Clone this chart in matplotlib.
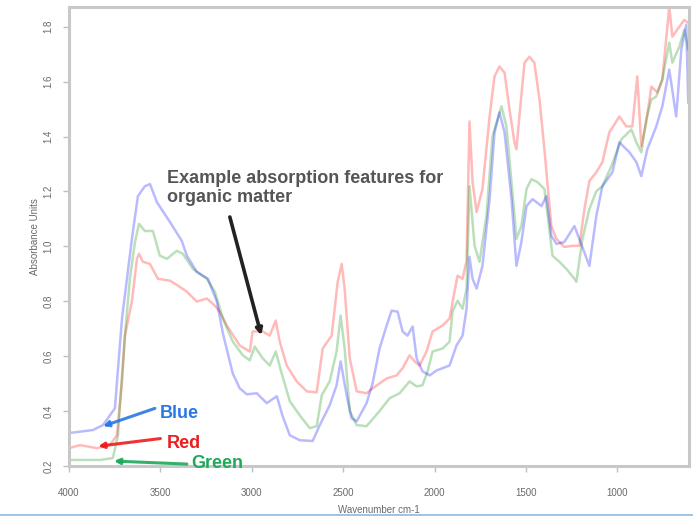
import matplotlib
matplotlib.use("Agg")
import matplotlib.pyplot as plt
from matplotlib.lines import Line2D

plt.rcParams['font.family'] = ['Liberation Sans', 'DejaVu Sans']

# ---------------- data (wavenumber cm-1, absorbance) ----------------
blue_wn = [4000, 3869, 3814, 3749, 3710, 3683, 3656, 3623, 3585, 3557, 3519, 3448, 3383, 3355,
           3301, 3240, 3191, 3158, 3104, 3066, 3027, 2973, 2918, 2863, 2831, 2792, 2738, 2667,
           2628, 2574, 2536, 2514, 2481, 2454, 2426, 2372, 2339, 2301, 2262, 2235, 2202, 2175,
           2148, 2120, 2098, 2066, 2027, 1989, 1918, 1880, 1847, 1825, 1809, 1792, 1770, 1738,
           1699, 1672, 1645, 1617, 1579, 1552, 1525, 1497, 1464, 1415, 1388, 1361, 1333, 1290,
           1235, 1208, 1153, 1115, 1082, 1027, 989, 934, 896, 869, 836, 787, 754, 716, 678,
           650, 623, 612]
blue_abs = [0.320, 0.331, 0.349, 0.410, 0.737, 0.882, 1.027, 1.183, 1.219, 1.227, 1.161, 1.089,
            1.020, 0.966, 0.907, 0.882, 0.799, 0.683, 0.537, 0.483, 0.461, 0.465, 0.429, 0.454,
            0.381, 0.312, 0.294, 0.291, 0.349, 0.421, 0.494, 0.581, 0.458, 0.374, 0.363, 0.429,
            0.501, 0.628, 0.712, 0.766, 0.762, 0.690, 0.675, 0.708, 0.592, 0.545, 0.530, 0.548,
            0.566, 0.639, 0.675, 0.773, 0.962, 0.882, 0.846, 0.929, 1.172, 1.415, 1.488, 1.415,
            1.172, 0.929, 1.016, 1.147, 1.172, 1.147, 1.183, 1.038, 1.009, 1.016, 1.074, 1.027,
            0.929, 1.111, 1.219, 1.270, 1.379, 1.343, 1.307, 1.256, 1.354, 1.437, 1.510, 1.644,
            1.473, 1.717, 1.807, 1.524]

red_wn = [4000, 3940, 3847, 3776, 3738, 3710, 3694, 3656, 3628, 3617, 3596, 3557, 3514, 3448,
          3404, 3355, 3301, 3246, 3202, 3175, 3137, 3066, 3011, 2995, 2940, 2902, 2869, 2847,
          2809, 2754, 2699, 2645, 2612, 2563, 2530, 2508, 2492, 2464, 2426, 2372, 2339, 2262,
          2208, 2175, 2137, 2109, 2082, 2044, 2011, 1956, 1918, 1891, 1874, 1847, 1825, 1809,
          1792, 1770, 1738, 1699, 1672, 1645, 1617, 1590, 1563, 1552, 1536, 1508, 1481, 1454,
          1426, 1399, 1383, 1361, 1333, 1290, 1246, 1208, 1180, 1153, 1115, 1082, 1044, 989,
          951, 918, 891, 869, 842, 814, 781, 754, 716, 699, 661, 634, 612]
red_abs = [0.265, 0.276, 0.265, 0.276, 0.312, 0.508, 0.675, 0.799, 0.955, 0.973, 0.944, 0.936,
           0.882, 0.875, 0.857, 0.835, 0.799, 0.810, 0.784, 0.762, 0.712, 0.639, 0.617, 0.690,
           0.690, 0.675, 0.730, 0.653, 0.566, 0.508, 0.472, 0.468, 0.628, 0.675, 0.871, 0.936,
           0.846, 0.592, 0.472, 0.465, 0.483, 0.519, 0.530, 0.556, 0.603, 0.581, 0.566, 0.617,
           0.690, 0.712, 0.737, 0.835, 0.893, 0.882, 0.947, 1.455, 1.234, 1.125, 1.209, 1.473,
           1.619, 1.655, 1.633, 1.499, 1.379, 1.354, 1.473, 1.669, 1.691, 1.669, 1.535, 1.354,
           1.234, 1.074, 1.027, 0.998, 1.002, 1.002, 1.136, 1.238, 1.270, 1.307, 1.415, 1.473,
           1.437, 1.437, 1.619, 1.365, 1.452, 1.582, 1.561, 1.608, 1.873, 1.764, 1.800, 1.825,
           1.814]

green_wn = [4000, 3831, 3760, 3732, 3710, 3694, 3667, 3639, 3617, 3585, 3541, 3503, 3464, 3410,
            3377, 3322, 3246, 3202, 3158, 3104, 3049, 3011, 2984, 2940, 2902, 2869, 2841, 2792,
            2738, 2683, 2645, 2617, 2574, 2536, 2514, 2492, 2464, 2426, 2372, 2301, 2246, 2191,
            2137, 2098, 2066, 2038, 2011, 1956, 1918, 1902, 1874, 1847, 1825, 1809, 1781, 1754,
            1716, 1683, 1634, 1607, 1579, 1552, 1525, 1497, 1470, 1437, 1399, 1372, 1355, 1317,
            1279, 1235, 1224, 1191, 1153, 1115, 1082, 1033, 978, 923, 896, 869, 842, 814, 787,
            754, 716, 699, 661, 634, 612]
green_abs = [0.222, 0.222, 0.229, 0.312, 0.530, 0.675, 0.882, 1.016, 1.082, 1.056, 1.056, 0.966,
             0.955, 0.984, 0.973, 0.918, 0.882, 0.835, 0.737, 0.653, 0.603, 0.585, 0.635, 0.592,
             0.566, 0.617, 0.548, 0.436, 0.385, 0.338, 0.345, 0.458, 0.508, 0.617, 0.748, 0.628,
             0.400, 0.349, 0.345, 0.400, 0.447, 0.465, 0.508, 0.490, 0.494, 0.545, 0.617, 0.628,
             0.653, 0.762, 0.802, 0.773, 0.846, 1.219, 1.002, 0.944, 1.111, 1.401, 1.510, 1.437,
             1.234, 1.027, 1.074, 1.209, 1.245, 1.234, 1.209, 1.063, 0.966, 0.944, 0.918, 0.882,
             0.871, 1.027, 1.136, 1.201, 1.219, 1.292, 1.390, 1.426, 1.379, 1.343, 1.463, 1.535,
             1.546, 1.608, 1.742, 1.669, 1.727, 1.789, 1.717]

x_ticks = [4000, 3500, 3000, 2500, 2000, 1500, 1000]
y_ticks = [0.2, 0.4, 0.6, 0.8, 1.0, 1.2, 1.4, 1.6, 1.8]
annotation_text = "Example absorption features for\norganic matter"
series_names = ["Blue", "Red", "Green"]

# ---------------- figure ----------------
fig = plt.figure(figsize=(6.93, 5.16), dpi=100)
ax = fig.add_axes([69/693, 1 - 466/516, (689-69)/693, (466-7)/516])

line_alpha = 0.27
ax.plot(red_wn, red_abs, color=(1.0, 0.0, 0.0), lw=1.8, alpha=line_alpha)
ax.plot(green_wn, green_abs, color=(0.0, 0.55, 0.0), lw=1.8, alpha=line_alpha)
ax.plot(blue_wn, blue_abs, color=(0.0, 0.0, 1.0), lw=1.8, alpha=line_alpha)

ax.set_xlim(4000, 608)
ax.set_ylim(0.205, 1.872)
ax.set_xticks(x_ticks)
ax.set_xticklabels([str(v) for v in x_ticks])
ax.set_yticks(y_ticks)
ax.set_yticklabels([f"{v:.1f}" for v in y_ticks], rotation=90, va='center')

spine_col = '#c8c8c8'
for s in ax.spines.values():
    s.set_color(spine_col)
    s.set_linewidth(2.2)
ax.tick_params(axis='both', colors='#c0c0c0', labelcolor='#6a6a6a', labelsize=7,
               length=4, width=1, direction='out')
ax.tick_params(axis='x', pad=12)
ax.tick_params(axis='y', pad=7)

ax.set_xlabel("Wavenumber cm-1", fontsize=7, color='#6a6a6a', labelpad=5)
ax.set_ylabel("Absorbance Units", fontsize=7, color='#6a6a6a', labelpad=3)

# annotation text + arrow
ax.text(3466, 1.212, annotation_text, fontsize=13, fontweight='bold', color='#555555',
        ha='left', va='center', linespacing=1.15)
ax.annotate("", xy=(2948, 0.676), xytext=(3120, 1.107),
            arrowprops=dict(arrowstyle='-|>', color='#222222', lw=2.6, mutation_scale=9,
                            shrinkA=0, shrinkB=0))

# series labels with arrows
label_cols = {"Blue": '#2a78e6', "Red": '#ee1c1c', "Green": '#1fa85a'}
label_pos = {"Blue": (3505, 0.393), "Red": (3466, 0.281), "Green": (3330, 0.208)}
arrow_from = {"Blue": (3530, 0.410), "Red": (3500, 0.300), "Green": (3355, 0.207)}
arrow_to = {"Blue": (3814, 0.345), "Red": (3840, 0.272), "Green": (3754, 0.218)}
for name in series_names:
    c = label_cols[name]
    ax.text(*label_pos[name], name, fontsize=13, fontweight='bold', color=c,
            ha='left', va='center')
    ax.annotate("", xy=arrow_to[name], xytext=arrow_from[name],
                arrowprops=dict(arrowstyle='-|>', color=c, lw=2.2, mutation_scale=8,
                                shrinkA=0, shrinkB=0, alpha=0.9))

# thin light-blue border line at the bottom of the picture
fig.add_artist(Line2D([0, 1], [1.5/516, 1.5/516], transform=fig.transFigure,
                      color='#8fb8e0', lw=1.2))

fig.savefig("out.png", dpi=100)
